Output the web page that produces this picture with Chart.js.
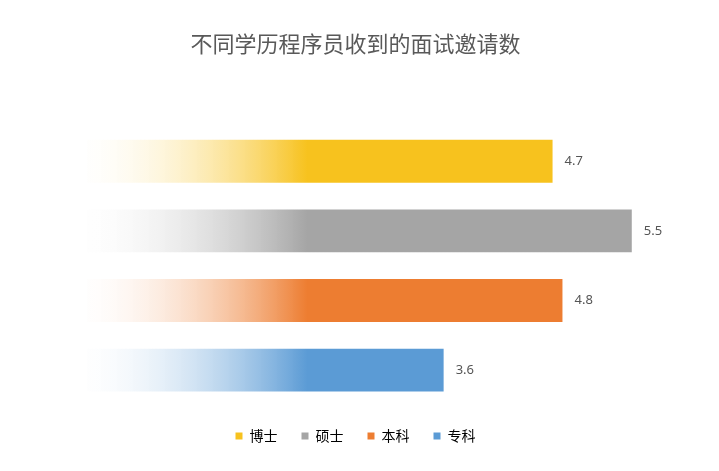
<!DOCTYPE html>
<html>
<head>
<meta charset="utf-8">
<script src="https://cdn.jsdelivr.net/npm/chart.js@4/dist/chart.umd.min.js"></script>
<style>
html,body{margin:0;background:#fff;}
#wrap{width:719px;height:471px;}
</style>
</head>
<body>
<div id="wrap"><canvas id="c"></canvas></div>
<script>
const title = "不同学历程序员收到的面试邀请数";
const degrees = ["博士", "硕士", "本科", "专科"];
const invites = [4.7, 5.5, 4.8, 3.6];
const colors = ["#F7C21E", "#A5A5A5", "#ED7D31", "#5B9BD5"];

function fade(ctx, color) {
	const chart = ctx.chart;
	if (!chart.chartArea) return color;
	const x0 = chart.scales.x.getPixelForValue(0);
	const g = chart.ctx.createLinearGradient(x0 - 20, 0, x0 + 220, 0);
	g.addColorStop(0, "rgba(255,255,255,0)");
	g.addColorStop(1, color);
	return g;
}

const endLabels = {
	id: "endLabels",
	afterDatasetsDraw(chart) {
		const c = chart.ctx;
		c.save();
		c.font = "13px 'Noto Sans', sans-serif";
		c.fillStyle = "#555";
		c.textBaseline = "middle";
		chart.data.datasets.forEach((ds, i) => {
			const el = chart.getDatasetMeta(i).data[0];
			c.fillText(ds.data[0].toFixed(1), el.x + 12, el.y);
		});
		c.restore();
	}
};

new Chart(document.getElementById("c"), {
	type: "bar",
	data: {
		labels: [""],
		datasets: degrees.map((d, i) => ({
			label: d,
			data: [invites[i]],
			backgroundColor: ctx => fade(ctx, colors[i]),
			borderWidth: 0,
			barPercentage: 0.615,
			categoryPercentage: 1
		}))
	},
	options: {
		indexAxis: "y",
		responsive: true,
		maintainAspectRatio: false,
		animation: false,
		layout: {padding: {left: 0, right: 8, top: 0, bottom: 18}},
		scales: {
			x: {display: false, min: -0.88, max: 6.3},
			y: {display: false}
		},
		plugins: {
			title: {
				display: true,
				text: title,
				color: "#595959",
				font: {size: 22, family: "'Noto Sans CJK SC', sans-serif", weight: "normal"},
				padding: {top: 30, bottom: 70}
			},
			legend: {
				position: "bottom",
				labels: {
					boxWidth: 7,
					boxHeight: 7,
					color: "#595959",
					padding: 24,
					font: {size: 14, family: "'Noto Sans CJK SC', sans-serif"},
					generateLabels: chart => degrees.map((d, i) => ({
						text: d, fillStyle: colors[i], strokeStyle: colors[i], lineWidth: 0, datasetIndex: i
					}))
				}
			},
			tooltip: {enabled: false}
		}
	},
	plugins: [endLabels]
});
</script>
</body>
</html>
